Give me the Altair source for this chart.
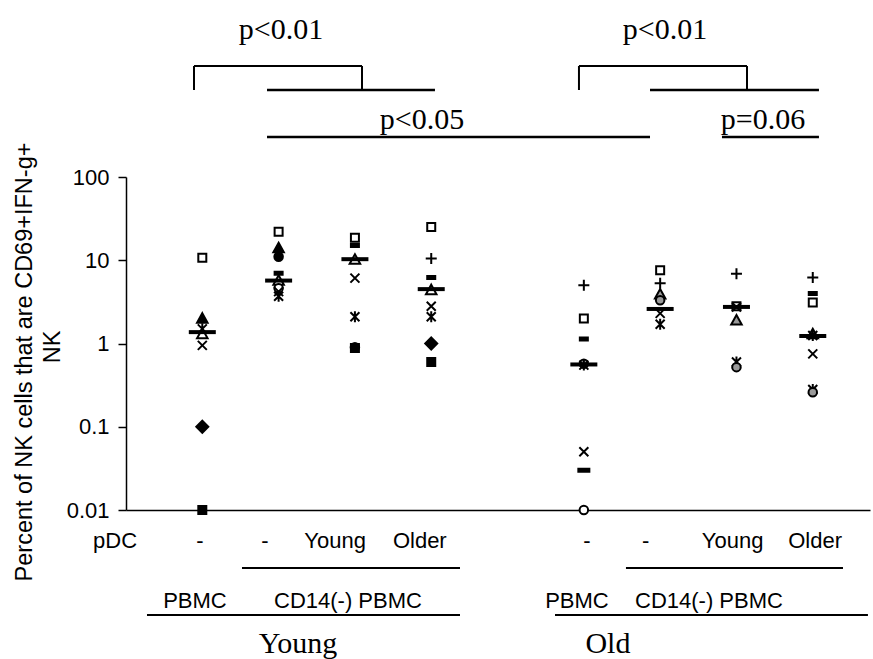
import altair as alt
import pandas as pd

# ---------------- data ----------------
GROUPS = ["Y_PBMC", "Y_CD14", "Y_pDCY", "Y_pDCO", "O_PBMC", "O_CD14", "O_pDCY", "O_pDCO"]
GROUP_POS = [0, 1, 2, 3, 5, 6, 7, 8]

y_pbmc_vals = [10.7, 2.0, 1.5, 1.3, 0.95, 0.1, 0.01]
y_pbmc_mark = ["sq_open", "tri_fill", "asterisk", "tri_open", "x", "diamond", "sq_fill"]

y_cd14_vals = [22, 14, 11, 7.0, 5.7, 4.6, 4.2, 3.7]
y_cd14_mark = ["sq_open", "tri_fill", "circle_fill", "dash", "tri_open", "circle_open", "x", "asterisk"]

y_pdcy_vals = [18.6, 15, 10.2, 6.1, 2.1, 0.88, 0.9]
y_pdcy_mark = ["sq_open", "dash", "tri_open", "x", "asterisk", "sq_fill", "circle_fill"]

y_pdco_vals = [25, 10.5, 6.2, 4.4, 2.8, 2.1, 1.0, 0.6]
y_pdco_mark = ["sq_open", "plus", "dash", "tri_open", "x", "asterisk", "diamond", "sq_fill"]

o_pbmc_vals = [5.0, 2.0, 1.13, 0.57, 0.55, 0.05, 0.03, 0.01]
o_pbmc_mark = ["plus", "sq_open", "dash", "circle_gray", "asterisk", "x", "long_dash", "circle_open"]

o_cd14_vals = [7.6, 5.3, 3.9, 3.3, 2.3, 1.7]
o_cd14_mark = ["sq_open", "plus", "tri_gray", "circle_gray", "x", "asterisk"]

o_pdcy_vals = [6.9, 2.8, 2.75, 1.9, 0.6, 0.52]
o_pdcy_mark = ["plus", "sq_open", "x", "tri_gray", "asterisk", "circle_gray"]

o_pdco_vals = [6.2, 4.0, 3.1, 1.3, 1.25, 0.75, 0.28, 0.26]
o_pdco_mark = ["plus", "dash", "sq_open", "tri_gray", "asterisk", "x", "asterisk", "circle_gray"]

medians = [1.37, 5.7, 10.3, 4.5, 0.56, 2.6, 2.75, 1.23]

group_vals = [y_pbmc_vals, y_cd14_vals, y_pdcy_vals, y_pdco_vals,
              o_pbmc_vals, o_cd14_vals, o_pdcy_vals, o_pdco_vals]
group_marks = [y_pbmc_mark, y_cd14_mark, y_pdcy_mark, y_pdco_mark,
               o_pbmc_mark, o_cd14_mark, o_pdcy_mark, o_pdco_mark]

rows = []
for g, pos, vals, marks in zip(GROUPS, GROUP_POS, group_vals, group_marks):
    for v, m in zip(vals, marks):
        rows.append({"group": g, "pos": pos, "value": v, "marker": m})
points_df = pd.DataFrame(rows)
med_df = pd.DataFrame({"group": GROUPS, "pos": GROUP_POS, "value": medians})

# ---------------- marker styles ----------------
MARKER_NAMES = ["sq_open", "sq_fill", "tri_open", "tri_fill", "tri_gray", "diamond", "x",
                "asterisk", "plus", "dash", "long_dash", "circle_fill", "circle_open", "circle_gray"]
SQ = "M-0.8,-0.8L0.8,-0.8L0.8,0.8L-0.8,0.8Z"
TRI = "M0,-1.05L1.05,0.85L-1.05,0.85Z"
CIRC = "M-0.85,0A0.85,0.85 0 1,0 0.85,0A0.85,0.85 0 1,0 -0.85,0Z"
MARKER_PATHS = [SQ, SQ, TRI, TRI, TRI,
                "M0,-1.2L1.2,0L0,1.2L-1.2,0Z",
                "M-0.9,-0.9L0.9,0.9M-0.9,0.9L0.9,-0.9",
                "M-0.9,-0.9L0.9,0.9M-0.9,0.9L0.9,-0.9M0,-1.1L0,1.1",
                "M-1.1,0L1.1,0M0,-1.1L0,1.1",
                "M-0.8,-0.3L0.8,-0.3L0.8,0.3L-0.8,0.3Z",
                "M-1.1,-0.3L1.1,-0.3L1.1,0.3L-1.1,0.3Z",
                CIRC, CIRC, CIRC]
MARKER_FILLS = ["white", "black", "white", "black", "#9a9a9a", "black", "black",
                "black", "black", "black", "black", "black", "white", "#9a9a9a"]

XSCALE = alt.Scale(domain=[-1, 8.75], nice=False, zero=False)
YSCALE = alt.Scale(type="log", domain=[0.01, 100], nice=False)
X_AX = alt.Axis(labels=False, ticks=False, title=None, grid=False, domainColor="black", domainWidth=1.5)
Y_AX = alt.Axis(values=[0.01, 0.1, 1, 10, 100], format="~g", title=None, grid=False,
                domainColor="black", domainWidth=1.5, tickColor="black", tickWidth=1.5,
                tickSize=8, labelPadding=9, labelFontSize=22, labelColor="black",
                labelFont="Liberation Sans")

points = alt.Chart(points_df).mark_point(opacity=1, strokeWidth=2, size=100, filled=False).encode(
    x=alt.X("pos:Q", scale=XSCALE, axis=X_AX),
    y=alt.Y("value:Q", scale=YSCALE, axis=Y_AX),
    shape=alt.Shape("marker:N", scale=alt.Scale(domain=MARKER_NAMES, range=MARKER_PATHS), legend=None),
    fill=alt.Fill("marker:N", scale=alt.Scale(domain=MARKER_NAMES, range=MARKER_FILLS), legend=None),
    stroke=alt.value("black"),
)

meds = alt.Chart(med_df).mark_tick(orient="horizontal", size=27, thickness=4, color="black", opacity=1).encode(
    x=alt.X("pos:Q", scale=XSCALE, axis=X_AX),
    y=alt.Y("value:Q", scale=YSCALE, axis=Y_AX),
)

# ---------------- annotations (x in group units, y in pixels from plot top) ----------------
def hrules(x1s, x2s, ypx, w):
    d = pd.DataFrame({"x1": x1s, "x2": x2s})
    return alt.Chart(d).mark_rule(color="black", strokeWidth=w).encode(
        x=alt.X("x1:Q", scale=XSCALE, axis=X_AX), x2="x2:Q", y=alt.value(ypx))

def vrules(xs, y1, y2, w):
    d = pd.DataFrame({"x1": xs})
    return alt.Chart(d).mark_rule(color="black", strokeWidth=w).encode(
        x=alt.X("x1:Q", scale=XSCALE, axis=X_AX), y=alt.value(y1), y2=alt.value(y2))

def texts(labels, xs, ypx, size, font, baseline="alphabetic"):
    d = pd.DataFrame({"t": labels, "x1": xs})
    return alt.Chart(d).mark_text(fontSize=size, font=font, color="black", align="center",
                                  baseline=baseline).encode(
        x=alt.X("x1:Q", scale=XSCALE, axis=X_AX), y=alt.value(ypx), text="t:N")

SERIF = "Liberation Serif"
SANS = "Liberation Sans"

annot = [
    vrules([-0.109, 2.093, 4.936, 7.138], -111, -87, 2),
    hrules([-0.109, 4.936], [2.093, 7.138], -111, 2),
    hrules([0.848, 5.867], [3.049, 8.081], -87, 2.5),
    hrules([0.848, 6.810], [5.867, 8.081], -40, 2.5),
    texts(["p<0.01", "p<0.01"], [1.031, 6.063], -138, 30, SERIF),
    texts(["p<0.05", "p=0.06"], [2.879, 7.347], -48, 30, SERIF),
    texts(["pDC", "-", "-", "Young", "Older", "-", "-", "Young", "Older"],
          [-1.144, -0.03, 0.82, 1.74, 2.85, 5.04, 5.81, 6.95, 8.03], 371, 22, SANS),
    hrules([0.520, 5.552], [3.377, 8.396], 391, 2),
    texts(["PBMC", "CD14(-) PBMC", "PBMC", "CD14(-) PBMC"], [-0.096, 1.909, 4.91, 6.64], 431, 22, SANS),
    hrules([-0.725, 4.622], [3.377, 8.723], 438, 2),
    texts(["Young", "Old"], [1.254, 5.316], 476, 30, SERIF),
]

title_df = pd.DataFrame({"t": ["Percent of NK cells that are CD69+IFN-g+"]})
title_df2 = pd.DataFrame({"t": ["NK"]})
ytitle1 = alt.Chart(title_df).mark_text(angle=270, fontSize=23.5, font=SANS, color="black",
                                        align="center", baseline="middle").encode(
    x=alt.value(-101), y=alt.value(185), text="t:N")
ytitle2 = alt.Chart(title_df2).mark_text(angle=270, fontSize=23.5, font=SANS, color="black",
                                         align="center", baseline="middle").encode(
    x=alt.value(-73), y=alt.value(170), text="t:N")

chart = alt.layer(points, meds, *annot, ytitle1, ytitle2).properties(
    width=744, height=333,
    autosize=alt.AutoSizeParams(type="none"),
    padding={"left": 126, "top": 177, "right": 3, "bottom": 149},
    background="white",
).configure_view(stroke=None)

chart.save("out.html", embed_options={"renderer": "svg", "actions": False})
